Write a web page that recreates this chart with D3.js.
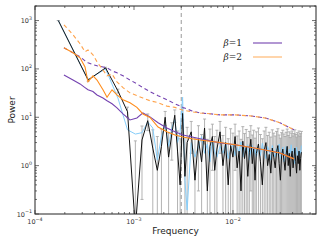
<!DOCTYPE html>
<html><head><meta charset="utf-8">
<script src="https://cdn.jsdelivr.net/npm/d3@7"></script>
<style>body{margin:0;background:#fff}</style>
</head><body><svg id="c" width="325" height="245"></svg>
<script>
// ---- data ----
const DF = 1.72e-4;
const harmonic = [1,2,3,4,5,6,7,8,9,10,11,12,13,14,15,16,17,18,19,20,
  22,24,26,28,30,32,34,36,38,40,
  43,46,49,52,55,58,61,64,67,70,73,76,79,82,85,88,91,94,97,100,
  105,110,115,120,125,130,135,140,145,150,155,160,165,170,175,180,185,190,195,200,
  205,210,215,220,225,230,235,240,245,250,255,260,265,270,275,280,285];
const power = [1000,59,105,35,13,0.05,3.4,8.5,2.3,0.8,2.5,10,1.5,4.5,11,2.0,0.4,12,0.6,3.0,
  5.0,0.5,3.5,1.2,6.0,0.3,2.5,4.0,0.8,2.2,
  5.0,1.0,3.0,0.4,2.6,1.5,4.0,0.9,2.0,0.3,3.2,1.4,2.4,0.6,1.9,3.5,1.1,2.2,0.5,1.8,
  2.8,1.2,0.4,2.0,3.0,1.0,1.7,0.7,2.3,1.5,0.9,1.9,2.6,1.1,0.5,1.6,2.2,1.3,0.8,1.7,
  2.5,1.0,1.8,0.6,1.5,2.0,0.9,1.4,2.3,1.2,0.7,1.6,1.1,2.0,0.8,1.4,1.9];
const simPower = [1000,60,100,25,5.5,4.5,4.8,8,6,1.3,4,7,2.5,6,9,3,5,26,0.5,0.12,
  3,1.5,2.5,4,1.8,2.8,1.2,3.5,2,1.5,
  2.5,1.8,3,1.4,2.2,2.8,1.6,2.4,1.9,3.1,1.5,2.3,1.8,2.7,1.3,2.1,2.6,1.7,2.2,1.5,
  2.4,1.6,2.9,1.9,1.4,2.5,2.0,1.3,2.6,1.8,1.5,2.3,1.7,2.8,1.4,2.0,2.4,1.2,1.9,2.5,
  1.6,1.3,2.2,1.8,2.7,1.5,1.9,2.3,1.1,1.7,2.4,1.6,2.0,1.3,2.1,1.8,2.6];
const POWER_ERR = 3.2;

const modelFreq = [1.96e-4,2.42e-4,2.85e-4,3.20e-4,3.43e-4,3.85e-4,4.23e-4,4.86e-4,5.34e-4,6.00e-4,
  6.73e-4,7.74e-4,9.11e-4,1.07e-3,1.23e-3,1.45e-3,1.75e-3,2.15e-3,2.59e-3,3.13e-3,
  3.86e-3,4.65e-3,5.86e-3,7.40e-3,1.05e-2,1.49e-2,2.11e-2,2.98e-2,4.13e-2];
const beta1Mean = [75,59,49,41,37,34,29,25,22,19,15.7,11.8,8.8,9.7,12.3,10.2,7.7,6.0,5.0,4.3,
  3.9,3.6,3.25,2.95,2.7,2.4,2.1,1.83,1.38];
const beta1Upper = [273,215,178,147,134,122,116,110,105,91,83,72,59,49,41,34,28,23,19,16,
  13.5,12.3,11.8,11.2,11.2,10.7,9.7,7.7,5.5];
const beta2Mean = [273,215,170,110,54,72,59,37,26,37,29,23,20,16,11.7,9.9,6.3,5.0,4.3,3.9,
  3.6,3.4,3.2,3.0,2.7,2.4,2.1,1.83,1.38];
const beta2Upper = [818,508,331,226,248,196,140,95,72,78,54,41,32,28,25,22,20,17,16,14,
  13,12.3,11.8,11.2,11.2,10.7,9.7,7.7,5.5];

const markFreq = 0.003;
const xTickExp = [-4,-3,-2];
const yTickExp = [-1,0,1,2,3];
const legendNames = ["1","2"];
const xLabel = "Frequency", yLabel = "Power";

// ---- drawing ----
const svg = d3.select("#c");
const L=35, R=316, T=6, B=214;
const x = d3.scaleLog().domain([1e-4, 0.0689]).range([L, R]);
const y = d3.scaleLog().domain([0.1, 2000]).range([B, T]);

svg.append("clipPath").attr("id","pc").append("rect")
  .attr("x",L).attr("y",T).attr("width",R-L).attr("height",B-T);
const g = svg.append("g").attr("clip-path","url(#pc)");

const freq = harmonic.map(k => k*DF);
const data = freq.map((f,i)=>({f, p:power[i], s:simPower[i]}));
const yv = v => y(Math.max(v, 1e-4));

// error bars
const eb = g.append("g").attr("stroke","#8f8f8f").attr("stroke-width",0.9).attr("opacity",0.75);
data.forEach(d=>{
  const hi = d.p + POWER_ERR, lo = d.p - POWER_ERR;
  const xi = x(d.f), yh = y(hi), yl = lo>0 ? y(lo) : B+5;
  eb.append("line").attr("x1",xi).attr("x2",xi).attr("y1",yh).attr("y2",yl);
  eb.append("line").attr("x1",xi-1.5).attr("x2",xi+1.5).attr("y1",yh).attr("y2",yh);
  if (lo>0) eb.append("line").attr("x1",xi-1.5).attr("x2",xi+1.5).attr("y1",yl).attr("y2",yl);
});

// vertical dashed marker
g.append("line").attr("x1",x(markFreq)).attr("x2",x(markFreq)).attr("y1",T).attr("y2",B)
  .attr("stroke","#9a9a9a").attr("stroke-width",1).attr("stroke-dasharray","4,3");

const lineD = d3.line().x(d=>x(d.f)).y(d=>yv(d.v));
g.append("path").datum(data.map(d=>({f:d.f,v:d.s}))).attr("d",lineD)
  .attr("fill","none").attr("stroke","#87cefa").attr("stroke-width",1);
g.append("path").datum(data.map(d=>({f:d.f,v:d.p}))).attr("d",lineD)
  .attr("fill","none").attr("stroke","#111").attr("stroke-width",1);

const model = arr => modelFreq.map((f,i)=>({f, v:arr[i]}));
const PURPLE="#7442b0", ORANGE="#ff8c1a", ORANGE_D="#ffa24a";
g.append("path").datum(model(beta1Upper)).attr("d",lineD).attr("fill","none")
  .attr("stroke",PURPLE).attr("stroke-width",1.1).attr("stroke-dasharray","4,3");
g.append("path").datum(model(beta2Upper)).attr("d",lineD).attr("fill","none")
  .attr("stroke",ORANGE_D).attr("stroke-width",1.1).attr("stroke-dasharray","4,3");
g.append("path").datum(model(beta1Mean)).attr("d",lineD).attr("fill","none")
  .attr("stroke",PURPLE).attr("stroke-width",1.1);
g.append("path").datum(model(beta2Mean)).attr("d",lineD).attr("fill","none")
  .attr("stroke",ORANGE).attr("stroke-width",1.1);

// frame
svg.append("rect").attr("x",L).attr("y",T).attr("width",R-L).attr("height",B-T)
  .attr("fill","none").attr("stroke","#222").attr("stroke-width",1);

// ticks
const tk = svg.append("g").attr("stroke","#333").attr("stroke-width",0.7);
const isMajor = v => Math.abs(Math.log10(v) - Math.round(Math.log10(v))) < 1e-6;
x.ticks().forEach(v=>{
  const xi = x(v), len = isMajor(v)?4:2;
  tk.append("line").attr("x1",xi).attr("x2",xi).attr("y1",B).attr("y2",B-len);
  tk.append("line").attr("x1",xi).attr("x2",xi).attr("y1",T).attr("y2",T+len);
});
y.ticks().forEach(v=>{
  const yi = y(v), len = isMajor(v)?4:2;
  tk.append("line").attr("x1",L).attr("x2",L+len).attr("y1",yi).attr("y2",yi);
  tk.append("line").attr("x1",R).attr("x2",R-len).attr("y1",yi).attr("y2",yi);
});

// tick labels
const FONT = "DejaVu Sans";
function pow10(sel, e){
  sel.append("tspan").text("10");
  sel.append("tspan").attr("dy",-3.5).attr("font-size",4.8).text(String(e).replace("-","\u2212"));
}
xTickExp.forEach(e=>{
  const t = svg.append("text").attr("x",x(Math.pow(10,e))).attr("y",224)
    .attr("text-anchor","middle").attr("font-family",FONT).attr("font-size",6.5).attr("fill","#333");
  pow10(t,e);
});
yTickExp.forEach(e=>{
  const t = svg.append("text").attr("x",32).attr("y",y(Math.pow(10,e))+2.5)
    .attr("text-anchor","end").attr("font-family",FONT).attr("font-size",6.5).attr("fill","#333");
  pow10(t,e);
});

// axis labels
svg.append("text").attr("x",(L+R)/2).attr("y",234).attr("text-anchor","middle")
  .attr("font-family",FONT).attr("font-size",9).attr("fill","#222").text(xLabel);
svg.append("text").attr("transform",`translate(15,${(T+B)/2}) rotate(-90)`).attr("text-anchor","middle")
  .attr("font-family",FONT).attr("font-size",9).attr("fill","#222").text(yLabel);

// legend
const legColors = [PURPLE, "#ffb366"];
legendNames.forEach((n,i)=>{
  const ly = 43 + i*14;
  const t = svg.append("text").attr("x",242).attr("y",ly+3).attr("text-anchor","end")
    .attr("font-family","DejaVu Serif").attr("font-size",9).attr("fill","#222");
  t.append("tspan").attr("font-style","italic").text("\u03b2");
  t.append("tspan").text("="+n);
  svg.append("line").attr("x1",253).attr("x2",282).attr("y1",ly).attr("y2",ly)
    .attr("stroke",legColors[i]).attr("stroke-width",1.1);
});
</script></body></html>
